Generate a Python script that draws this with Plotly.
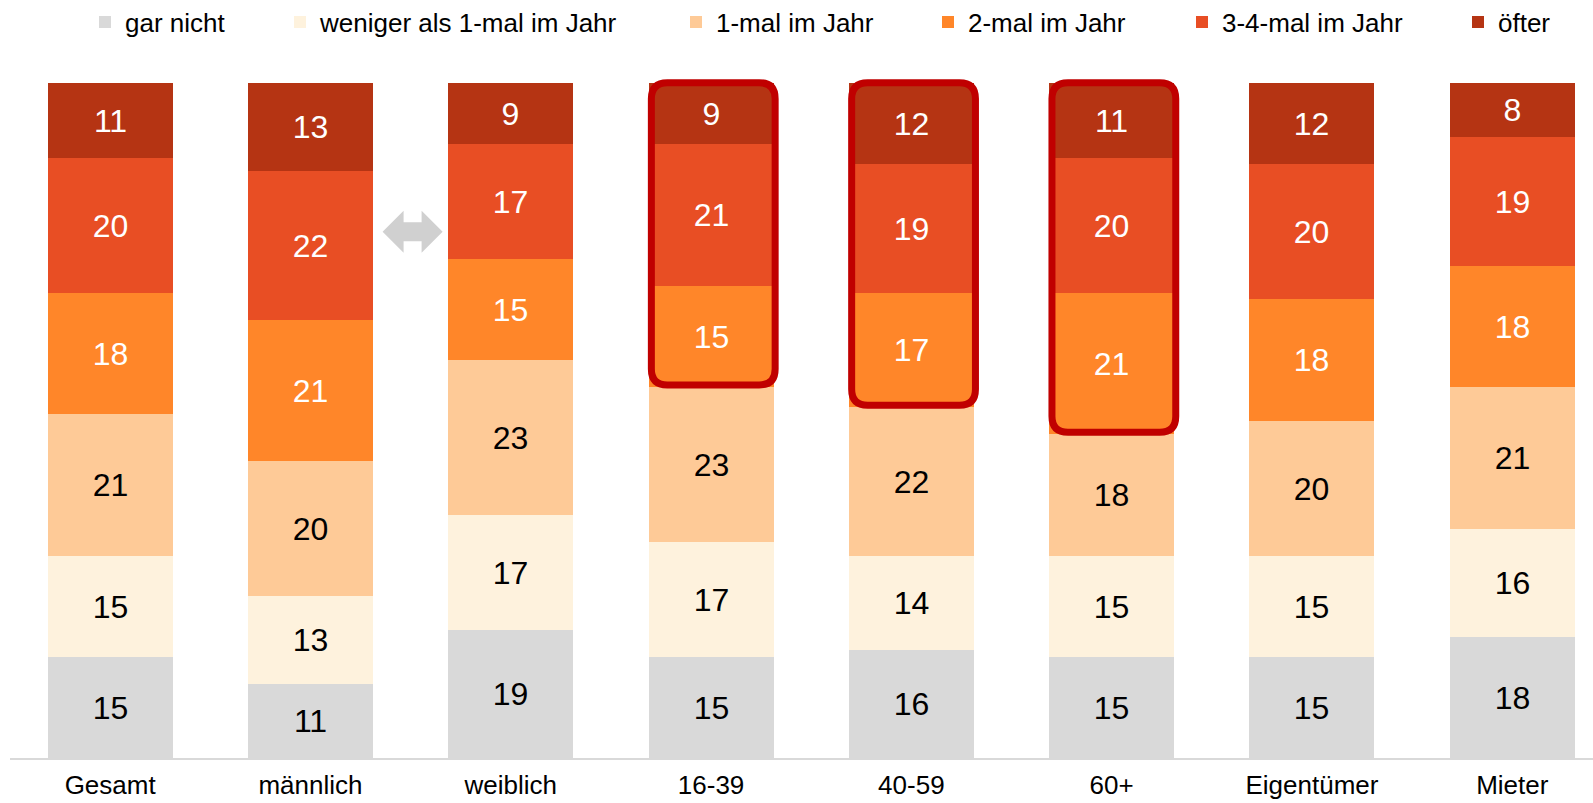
import plotly.graph_objects as go

# ---------------- data ----------------
categories = ["Gesamt", "männlich", "weiblich", "16-39", "40-59", "60+", "Eigentümer", "Mieter"]

series_names = ["gar nicht", "weniger als 1-mal im Jahr", "1-mal im Jahr",
                "2-mal im Jahr", "3-4-mal im Jahr", "öfter"]

gar_nicht = [15, 11, 19, 15, 16, 15, 15, 18]
weniger_als_1 = [15, 13, 17, 17, 14, 15, 15, 16]
einmal = [21, 20, 23, 23, 22, 18, 20, 21]
zweimal = [18, 21, 15, 15, 17, 21, 18, 18]
drei_vier = [20, 22, 17, 21, 19, 20, 20, 19]
oefter = [11, 13, 9, 9, 12, 11, 12, 8]

series_values = [gar_nicht, weniger_als_1, einmal, zweimal, drei_vier, oefter]

highlight = ["16-39", "40-59", "60+"]

# ---------------- styles ----------------
colors = ["#D9D9D9", "#FEF2DD", "#FECA97", "#FF8629", "#E84E24", "#B53413"]
text_colors = ["#000000", "#000000", "#000000", "#FFFFFF", "#FFFFFF", "#FFFFFF"]
FONT = "Liberation Sans, Arial, sans-serif"

W, H = 1593, 803
ML, MR, MT, MB = 10, 0, 70, 45
PX_PER_CAT = 200.3
PLOT_W = W - ML - MR
PLOT_H = H - MT - MB
Y_MAX = 101.99
PX_PER_Y = PLOT_H / Y_MAX
X_RANGE = [-0.5, -0.5 + PLOT_W / PX_PER_CAT]

legend_x_px = [103, 298, 694, 946, 1200, 1476]   # left edge of legend symbols
legend_y_px = 22

fig = go.Figure()
legend_keys = ["legend"] + [f"legend{i}" for i in range(2, len(series_names) + 1)]
for i, (name, vals) in enumerate(zip(series_names, series_values)):
    fig.add_trace(go.Bar(
        x=categories, y=vals, name=name,
        marker=dict(color=colors[i], line=dict(width=0)),
        width=0.624,
        text=[str(v) for v in vals],
        textposition="inside", insidetextanchor="middle", textangle=0,
        textfont=dict(family=FONT, size=32, color=text_colors[i]),
        constraintext="none",
        hoverinfo="skip",
        legend=legend_keys[i],
    ))

# rounded highlight rectangles
shapes = []
rx = 16 / PX_PER_CAT
ry = 16 / PX_PER_Y
for cat in highlight:
    idx = categories.index(cat)
    base = gar_nicht[idx] + weniger_als_1[idx] + einmal[idx]
    total = sum(s[idx] for s in series_values)
    x0, x1 = idx - 0.298, idx + 0.32
    y0, y1 = base + 0.3, total + 0.1
    path = (f"M {x0+rx},{y1} L {x1-rx},{y1} Q {x1},{y1} {x1},{y1-ry} "
            f"L {x1},{y0+ry} Q {x1},{y0} {x1-rx},{y0} L {x0+rx},{y0} "
            f"Q {x0},{y0} {x0},{y0+ry} L {x0},{y1-ry} Q {x0},{y1} {x0+rx},{y1} Z")
    shapes.append(dict(type="path", xref="x", yref="y", path=path,
                       line=dict(color="#C00000", width=7), fillcolor="rgba(0,0,0,0)"))

# grey double arrow between männlich and weiblich
arrow = ("M -30,0 L -9,21 L -9,9.5 L 9,9.5 L 9,21 L 30,0 L 9,-21 L 9,-9.5 "
         "L -9,-9.5 L -9,-21 Z")
shapes.append(dict(type="path", xref="x", yref="y", xsizemode="pixel", ysizemode="pixel",
                   xanchor=1.51, yanchor=78, path=arrow,
                   fillcolor="#D0D0D0", line=dict(width=0)))

layout_legends = {}
for i, key in enumerate(legend_keys):
    layout_legends[key] = dict(
        x=(legend_x_px[i] - 18) / W, xref="container", xanchor="left",
        y=1 - legend_y_px / H, yref="container", yanchor="middle",
        orientation="h", bgcolor="rgba(0,0,0,0)", borderwidth=0,
        font=dict(family=FONT, size=26, color="#000000"),
        itemclick=False, itemdoubleclick=False,
    )

fig.update_layout(
    width=W, height=H,
    margin=dict(l=ML, r=MR, t=MT, b=MB, pad=0, autoexpand=False),
    paper_bgcolor="white", plot_bgcolor="white",
    barmode="stack", bargap=0,
    showlegend=True,
    shapes=shapes,
    font=dict(family=FONT, color="#000000"),
    xaxis=dict(
        range=X_RANGE, showgrid=False, zeroline=False,
        showline=True, linecolor="#D9D9D9", linewidth=2,
        ticks="", tickfont=dict(family=FONT, size=26, color="#000000"),
        ticklabelstandoff=3, fixedrange=True, automargin=False,
    ),
    yaxis=dict(range=[0, Y_MAX], visible=False, fixedrange=True, automargin=False),
    **layout_legends,
)

fig.write_html("out.html", config={"displayModeBar": False},
               post_script="document.body.style.margin='0';document.body.style.overflow='hidden';")
